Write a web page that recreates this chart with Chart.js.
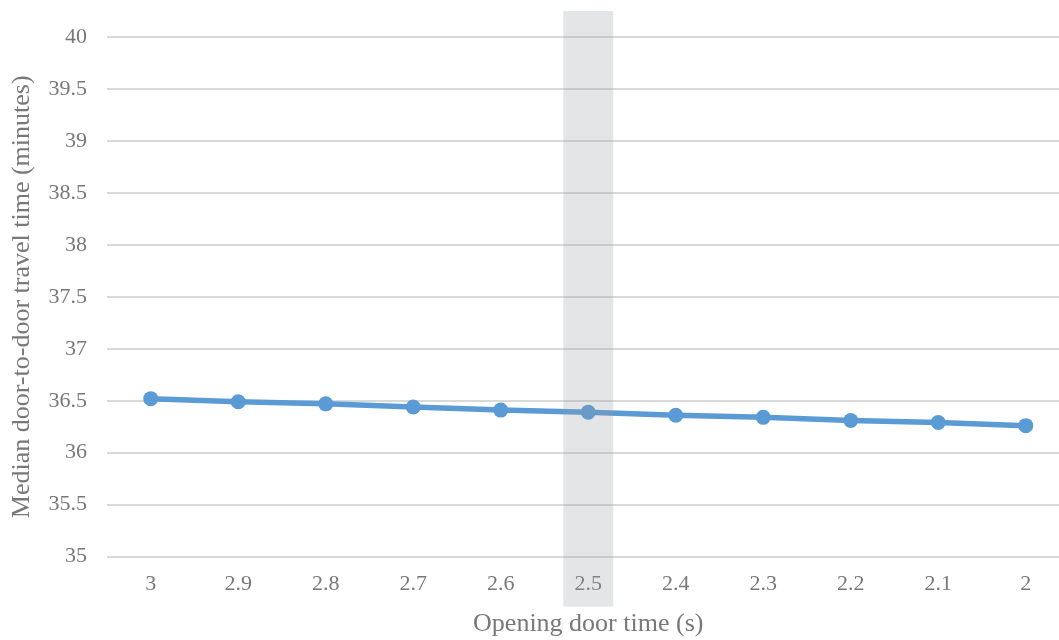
<!DOCTYPE html>
<html>
<head>
<meta charset="utf-8">
<script src="https://cdn.jsdelivr.net/npm/chart.js@4/dist/chart.umd.min.js"></script>
<style>
  html, body { margin: 0; padding: 0; background: #fff; overflow: hidden; }
  #wrap { width: 1077px; height: 640px; position: relative; }
</style>
</head>
<body>
<div id="wrap"><canvas id="c"></canvas></div>
<script>
// Opening door time (s) on the x axis, highest first
const doorTimes = ['3', '2.9', '2.8', '2.7', '2.6', '2.5', '2.4', '2.3', '2.2', '2.1', '2'];
// Median door-to-door travel time (minutes)
const travelTimes = [36.52, 36.49, 36.47, 36.44, 36.41, 36.39, 36.36, 36.34, 36.31, 36.29, 36.26];
// Highlighted opening door time
const highlightTime = '2.5';

const textColor = '#787878';
const serif = '"Liberation Serif", "Times New Roman", serif';

// Translucent grey band over the highlighted category
const highlightBand = {
  id: 'highlightBand',
  afterDatasetsDraw(chart) {
    const x = chart.scales.x;
    const area = chart.chartArea;
    const idx = doorTimes.indexOf(highlightTime);
    const cx = x.getPixelForValue(idx);
    const w = x.width / doorTimes.length * 0.57;
    const ctx = chart.ctx;
    ctx.save();
    ctx.fillStyle = 'rgba(152,156,164,0.26)';
    ctx.fillRect(cx - w / 2, area.top - 26, w, area.bottom - area.top + 76);
    ctx.restore();
  }
};

new Chart(document.getElementById('c'), {
  type: 'line',
  data: {
    labels: doorTimes,
    datasets: [{
      data: travelTimes,
      borderColor: '#5b9bd5',
      backgroundColor: '#5b9bd5',
      borderWidth: 5.5,
      pointRadius: 7.5,
      pointHoverRadius: 7.5,
      pointBorderWidth: 0,
      tension: 0
    }]
  },
  options: {
    responsive: true,
    maintainAspectRatio: false,
    animation: false,
    layout: { padding: { top: 37, left: 0, right: 0, bottom: 3 } },
    plugins: { legend: { display: false }, tooltip: { enabled: false } },
    scales: {
      x: {
        offset: true,
        grid: { display: false, drawTicks: false },
        border: { display: false },
        ticks: { color: textColor, font: { family: serif, size: 22 }, padding: 14 },
        title: {
          display: true,
          text: 'Opening door time (s)',
          color: textColor,
          font: { family: serif, size: 26, lineHeight: 1.0 },
          padding: { top: 0, bottom: 0 }
        }
      },
      y: {
        min: 35,
        max: 40,
        afterFit(scale) { scale.width = 107; },
        ticks: {
          stepSize: 0.5,
          color: textColor,
          font: { family: serif, size: 22 },
          padding: 20,
          callback: v => String(Math.round(v * 10) / 10)
        },
        grid: { color: '#d9d9d9', lineWidth: 2, drawTicks: false },
        border: { display: false },
        title: {
          display: true,
          text: 'Median door-to-door travel time (minutes)',
          color: textColor,
          font: { family: serif, size: 26, lineHeight: 1.0 },
          padding: { top: 9, bottom: 4 }
        }
      }
    }
  },
  plugins: [highlightBand]
});
</script>
</body>
</html>
